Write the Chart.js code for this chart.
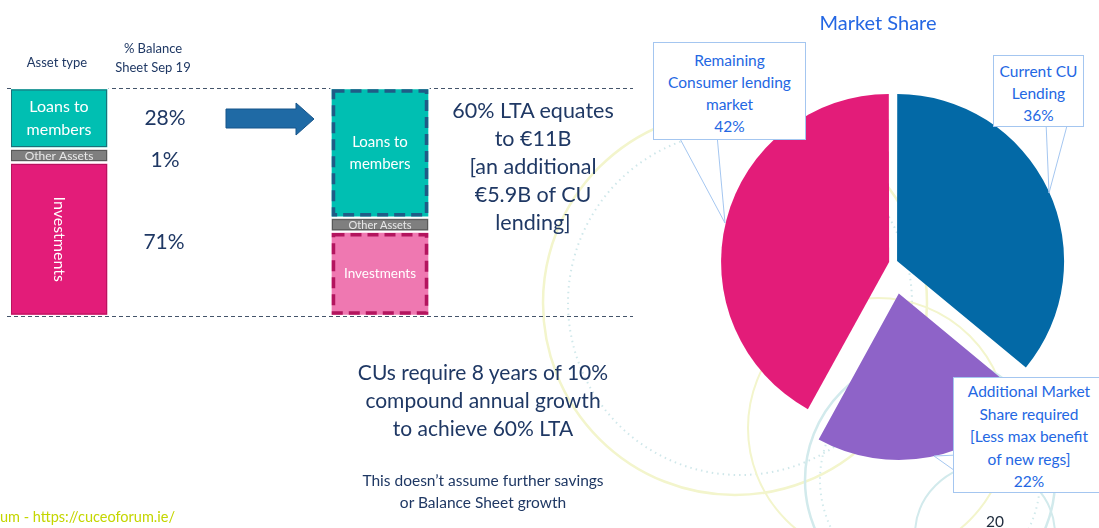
<!DOCTYPE html>
<html>
<head>
<meta charset="utf-8">
<script src="https://cdn.jsdelivr.net/npm/chart.js@4"></script>
<style>
  body { margin: 0; width: 1099px; height: 528px; overflow: hidden; background: #fff;
         font-family: Lato, "Open Sans", sans-serif; position: relative; }
  .abs { position: absolute; }
  .t { position: absolute; text-align: center; white-space: nowrap; color: #1F3864; }
  .callout { position: absolute; background: #fff; border: 1px solid #A4C6F0; color: #2467E3;
             font-size: 15.5px; line-height: 22px; text-align: center; box-sizing: border-box; }
</style>
</head>
<body>

<svg class="abs" style="left:0;top:0" width="1099" height="528">
  <circle cx="735" cy="303" r="192" fill="none" stroke="#F3F5CC" stroke-width="2.5"/>
  <circle cx="740" cy="303" r="172" fill="none" stroke="#CFE7EA" stroke-width="2" stroke-dasharray="1.5 4"/>
  <circle cx="878" cy="428" r="130" fill="none" stroke="#F3F5CC" stroke-width="2"/>
  <circle cx="930" cy="480" r="125" fill="none" stroke="#D2EAEC" stroke-width="2.5"/>
  <circle cx="930" cy="480" r="110" fill="none" stroke="#D2EAEC" stroke-width="2" stroke-dasharray="1.5 4"/>
  <circle cx="985" cy="535" r="70" fill="none" stroke="#D2EAEC" stroke-width="2"/>
  <line x1="7" y1="88.5" x2="633" y2="88.5" stroke="#44546A" stroke-dasharray="4 3"/>
  <line x1="7" y1="316.5" x2="633" y2="316.5" stroke="#44546A" stroke-dasharray="4 3"/>
  <polygon points="226,109 296,109 296,103 314,119 296,135 296,128 226,128" fill="#1F6AA5" stroke="#17558A"/>
</svg>

<canvas id="bars" class="abs" width="440" height="244" style="left:0px;top:80px;width:440px;height:244px"></canvas>
<canvas id="pie" class="abs" width="400" height="400" style="left:693px;top:63px;width:400px;height:400px"></canvas>

<svg class="abs" style="left:0;top:0" width="1099" height="528">
  <polygon points="678,135 725,223 717,135" fill="#fff" stroke="#A4C6F0"/>
  <polygon points="1046,122 1049,193 1068,122" fill="#fff" stroke="#A4C6F0"/>
  <polygon points="958,455 934,456 958,473" fill="#fff" stroke="#A4C6F0"/>
</svg>

<div class="t" style="left:7px;top:53px;width:100px;font-size:13px;line-height:19px">Asset type</div>
<div class="t" style="left:103px;top:39px;width:100px;font-size:13px;line-height:19px">% Balance<br>Sheet Sep 19</div>
<div class="t" id="p0" style="left:115px;top:104px;width:100px;font-size:21px;line-height:26px"></div>
<div class="t" id="p1" style="left:115px;top:146px;width:100px;font-size:21px;line-height:26px"></div>
<div class="t" id="p2" style="left:114px;top:228px;width:100px;font-size:21px;line-height:26px"></div>

<div class="t" style="left:413px;top:96px;width:240px;font-size:21.5px;line-height:28px">60% LTA equates<br>to €11B<br>[an additional<br>€5.9B of CU<br>lending]</div>
<div class="t" style="left:333px;top:358px;width:300px;font-size:21px;line-height:28px">CUs require 8 years of 10%<br>compound annual growth<br>to achieve 60% LTA</div>
<div class="t" style="left:333px;top:469px;width:300px;font-size:15.5px;line-height:22px">This doesn’t assume further savings<br>or Balance Sheet growth</div>

<div class="t" style="left:778px;top:10px;width:200px;font-size:20px;line-height:24px;color:#2467E3">Market Share</div>

<div class="callout" style="left:653px;top:42px;width:153px;height:98px;padding-top:6px">Remaining<br>Consumer lending<br>market<br><span id="c2"></span></div>
<div class="callout" style="left:993px;top:55px;width:91px;height:72px;padding-top:4px">Current CU<br>Lending<br><span id="c0"></span></div>
<div class="callout" style="left:953px;top:377px;width:152px;height:116px;padding-top:2px;line-height:22.5px">Additional Market<br>Share required<br>[Less max benefit<br>of new regs]<br><span id="c1"></span></div>

<div class="t" style="left:965px;top:511px;width:60px;font-size:15.5px;line-height:20px;color:#1E2B3C">20</div>
<div class="abs" style="left:0;top:508px;font-size:14.5px;line-height:18px;color:#C4D600;white-space:nowrap">um - https://cuceoforum.ie/</div>

<script>
const assetTypes = ["Loans to members", "Other Assets", "Investments"];
const stackNames = ["Sep 19", "60% LTA"];
const loansPct = [28, 60];
const otherPct = [1, 1];
const investPct = [71, 39];

const shareLabels = ["Current CU Lending", "Additional Market Share required", "Remaining Consumer lending market"];
const shareValues = [36, 22, 42];

document.getElementById("p0").textContent = loansPct[0] + "%";
document.getElementById("p1").textContent = otherPct[0] + "%";
document.getElementById("p2").textContent = investPct[0] + "%";
shareValues.forEach((v, i) => { document.getElementById("c" + i).textContent = v + "%"; });

function rectOf(el) {
  const p = el.getProps(["x", "y", "base", "width"], true);
  return { l: p.x - p.width / 2, t: Math.min(p.y, p.base), w: p.width, h: Math.abs(p.base - p.y) };
}

function textLines(ctx, lines, cx, cy, lh) {
  const start = cy - (lines.length - 1) * lh / 2;
  lines.forEach((s, i) => ctx.fillText(s, cx, start + i * lh));
}

const barDecor = {
  id: "barDecor",
  afterDatasetsDraw(chart) {
    const ctx = chart.ctx;
    const rects = chart.data.datasets.map((ds, i) => chart.getDatasetMeta(i).data.map(rectOf));
    const loanLines = assetTypes[0].split(/(?<=to) /);
    ctx.save();

    // current balance sheet: thin outlines
    const thin = ["#1E6F78", "#595959", "#B8145E"];
    rects.forEach((r, i) => {
      const a = r[0];
      ctx.strokeStyle = thin[i];
      ctx.lineWidth = 1;
      ctx.strokeRect(a.l + 2, a.t + 2, a.w - 4, a.h - 4);
    });

    // target: dashed outlines
    const b = rects.map(r => r[1]);
    ctx.strokeStyle = "#595959";
    ctx.lineWidth = 1;
    ctx.strokeRect(b[1].l + 2, b[1].t + 2, b[1].w - 4, b[1].h - 4);
    ctx.lineWidth = 3.5;
    ctx.setLineDash([11, 6]);
    ctx.strokeStyle = "#1F5C86";
    ctx.strokeRect(b[0].l + 3, b[0].t + 3, b[0].w - 6, b[0].h - 6);
    ctx.strokeStyle = "#B3155E";
    ctx.strokeRect(b[2].l + 3, b[2].t + 3, b[2].w - 6, b[2].h - 6);
    ctx.setLineDash([]);

    ctx.textAlign = "center";
    ctx.textBaseline = "middle";
    const a = rects.map(r => r[0]);
    ctx.fillStyle = "#fff";
    ctx.font = "16px Lato";
    textLines(ctx, loanLines, a[0].l + a[0].w / 2, a[0].t + a[0].h / 2, 23);
    ctx.font = "15px Lato";
    textLines(ctx, loanLines, b[0].l + b[0].w / 2, b[0].t + b[0].h / 2, 22);
    ctx.font = "13.5px Lato";
    ctx.fillText(assetTypes[2], b[2].l + b[2].w / 2, b[2].t + b[2].h / 2);
    ctx.save();
    ctx.translate(a[2].l + a[2].w / 2, a[2].t + a[2].h / 2);
    ctx.rotate(Math.PI / 2);
    ctx.font = "16px Lato";
    ctx.fillText(assetTypes[2], 0, 0);
    ctx.restore();
    ctx.fillStyle = "#E8E8E8";
    ctx.font = "12px Lato";
    ctx.fillText(assetTypes[1], a[1].l + a[1].w / 2, a[1].t + a[1].h / 2 + 0.5);
    ctx.font = "11px Lato";
    ctx.fillText(assetTypes[1], b[1].l + b[1].w / 2, b[1].t + b[1].h / 2 + 0.5);
    ctx.restore();
  }
};

new Chart(document.getElementById("bars"), {
  type: "bar",
  data: {
    datasets: [
      { label: assetTypes[0], data: loansPct.map((v, i) => ({ x: i, y: v })), backgroundColor: ["#00BFB2", "#00BFB2"] },
      { label: assetTypes[1], data: otherPct.map((v, i) => ({ x: i, y: v })), backgroundColor: "#7F7F7F", minBarLength: 14 },
      { label: assetTypes[2], data: investPct.map((v, i) => ({ x: i, y: v })), backgroundColor: ["#E31C79", "#EF78B1"] }
    ]
  },
  options: {
    responsive: false,
    animation: false,
    events: [],
    layout: { padding: { left: 11, right: 9, top: 8, bottom: 8 } },
    datasets: { bar: { barThickness: 99, borderWidth: 1.5, borderColor: "#fff", borderSkipped: false } },
    scales: {
      x: { type: "linear", stacked: true, min: -0.1495, max: 1.1589, offset: false, display: false },
      y: { stacked: true, reverse: true, min: 0, max: 105.5, display: false }
    },
    plugins: { legend: { display: false }, tooltip: { enabled: false } }
  },
  plugins: [barDecor]
});

new Chart(document.getElementById("pie"), {
  type: "pie",
  data: {
    labels: shareLabels,
    datasets: [{
      data: shareValues,
      backgroundColor: ["#0369A6", "#8E63C8", "#E31C79"],
      borderWidth: 0,
      offset: [18, 124, 16],
      radius: 166
    }]
  },
  options: {
    responsive: false,
    animation: false,
    events: [],
    layout: { padding: 0 },
    plugins: { legend: { display: false }, tooltip: { enabled: false } }
  }
});
</script>
</body>
</html>
